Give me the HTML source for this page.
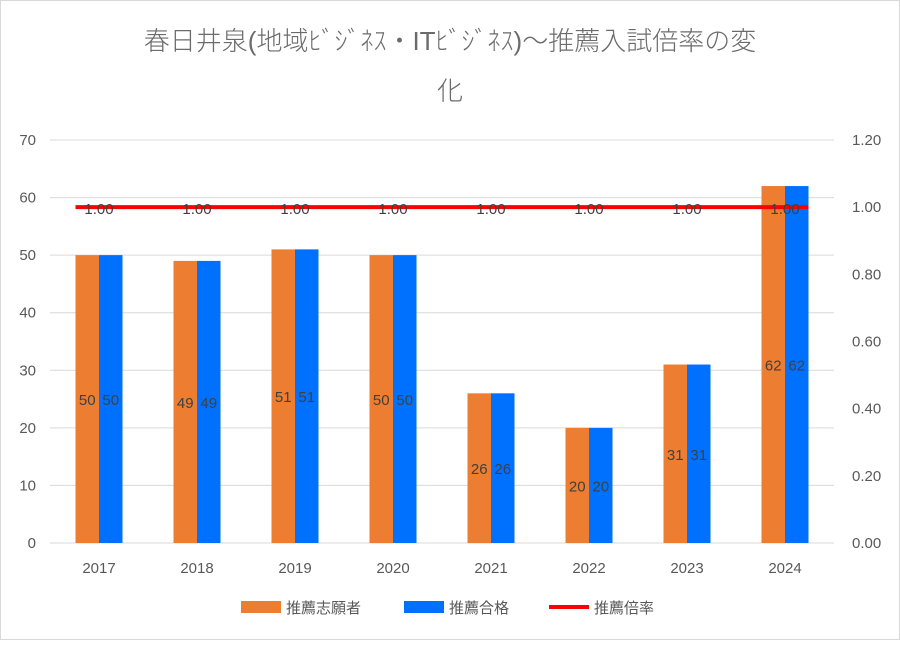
<!DOCTYPE html>
<html><head><meta charset="utf-8"><style>
body{margin:0;background:#fff;}
svg text{font-family:"Liberation Sans","Noto Sans CJK JP",sans-serif;}
</style></head><body>
<svg id="chart" width="900" height="640" xmlns="http://www.w3.org/2000/svg">
<rect x="0.5" y="0.5" width="899" height="639" fill="#fff" stroke="#d9d9d9"/>
<text x="450" y="50" text-anchor="middle" font-size="26" fill="#6b6b6b" font-weight="300">春日井泉(地域ﾋﾞｼﾞﾈｽ・ITﾋﾞｼﾞﾈｽ)～推薦入試倍率の変</text>
<text x="450" y="100" text-anchor="middle" font-size="26" fill="#6b6b6b" font-weight="300">化</text>
<g id="g"></g>
<g>
<rect x="241" y="601" width="40" height="12" fill="#ed7d31"/>
<text x="286" y="613" font-size="15" fill="#595959">推薦志願者</text>
<rect x="404" y="601" width="40" height="12" fill="#0070ff"/>
<text x="449" y="613" font-size="15" fill="#595959">推薦合格</text>
<rect x="549" y="605" width="40" height="4" fill="#ff0000"/>
<text x="594" y="613" font-size="15" fill="#595959">推薦倍率</text>
</g>
</svg>
<script>
const categories=["2017","2018","2019","2020","2021","2022","2023","2024"];
const applicants=[50,49,51,50,26,20,31,62];
const passed=[50,49,51,50,26,20,31,62];
const ratio=[1.00,1.00,1.00,1.00,1.00,1.00,1.00,1.00];
const leftTicks=[0,10,20,30,40,50,60,70];
const rightTicks=[0,0.2,0.4,0.6,0.8,1.0,1.2];
const NS="http://www.w3.org/2000/svg";
const g=document.getElementById('g');
const x0=50,x1=834,yB=543,yT=140;
const yL=v=>yB-(v/70)*(yB-yT);
const yR=v=>yB-(v/1.2)*(yB-yT);
const step=(x1-x0)/categories.length;
const cx=i=>x0+step*(i+0.5);
function mk(t,a){const e=document.createElementNS(NS,t);for(const k in a)e.setAttribute(k,a[k]);g.appendChild(e);return e;}
leftTicks.forEach(v=>{
 const l=mk('line',{x1:x0,x2:x1,y1:yL(v),y2:yL(v),stroke:'#d9d9d9'});
 
 
 const t=mk('text',{x:36,y:yL(v)+5,'text-anchor':'end','font-size':15,fill:'#595959'});
 t.textContent=v;
 
 
});
rightTicks.forEach(v=>{
 const t=mk('text',{x:852,y:yR(v)+5,'font-size':15,fill:'#595959'});
 t.textContent=v.toFixed(2);
 
 
});
const bw=23.5;
categories.forEach((c,i)=>{
 const x=cx(i);
 const a=mk('rect',{x:x-bw,y:yL(applicants[i]),width:bw,height:yB-yL(applicants[i]),fill:'#ed7d31'});
 
 
 const b=mk('rect',{x:x,y:yL(passed[i]),width:bw,height:yB-yL(passed[i]),fill:'#0070ff'});
 
 
 const t=mk('text',{x:x,y:yB+30,'text-anchor':'middle','font-size':15,fill:'#595959'});
 t.textContent=c;
 
 
 const la=mk('text',{x:x-bw/2,y:(yL(applicants[i])+yB)/2+6,'text-anchor':'middle','font-size':15,fill:'#404040'});
 la.textContent=applicants[i];
 
 
 const lb=mk('text',{x:x+bw/2,y:(yL(passed[i])+yB)/2+6,'text-anchor':'middle','font-size':15,fill:'#404040'});
 lb.textContent=passed[i];
 
 
});
const n=ratio.length;
const pts=ratio.map((v,i)=>{const x=i===0?cx(i)-bw:(i===n-1?cx(i)+bw:cx(i));return x+','+yR(v);}).join(' ');
const pl=mk('polyline',{points:pts,fill:'none',stroke:'#ff0000','stroke-width':4});


ratio.forEach((v,i)=>{
 const t=mk('text',{x:cx(i),y:yR(v)+7,'text-anchor':'middle','font-size':15,fill:'#404040'});
 t.textContent=v.toFixed(2);
 
 
});
</script>
</body></html>
